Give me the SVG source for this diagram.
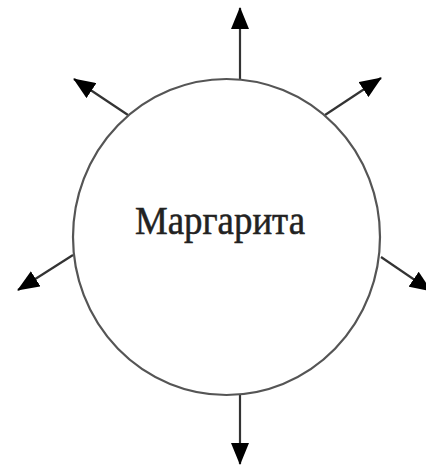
<svg xmlns="http://www.w3.org/2000/svg" width="426" height="466" viewBox="0 0 426 466">
<defs>
<marker id="ah" markerUnits="userSpaceOnUse" markerWidth="22" markerHeight="18" refX="21" refY="9" orient="auto" viewBox="0 0 22 18">
<path d="M0,0 L22,9 L0,18 Z" fill="#000"/>
</marker>
<style>
.c{stroke:#333;stroke-width:2.2;fill:none;marker-end:url(#ah)}
.n{fill:#fff;stroke:#555;stroke-width:2.2}
.t{font-family:"Liberation Serif","Times New Roman",serif;font-size:39px;fill:#222;stroke:#222;stroke-width:0.5}
</style>
</defs>
<rect width="426" height="466" fill="#fff"/>
<g id="connectors">
<line class="c" x1="240" y1="79" x2="240" y2="8"/>
<line class="c" x1="128" y1="115" x2="74" y2="79"/>
<line class="c" x1="325" y1="115" x2="381" y2="78"/>
<line class="c" x1="73" y1="255" x2="18" y2="290"/>
<line class="c" x1="381" y1="257" x2="431" y2="291"/>
<line class="c" x1="240" y1="395" x2="240" y2="464"/>
</g>
<g id="node-margarita">
<ellipse class="n" cx="226.5" cy="237" rx="153.5" ry="158"/>
<text class="t" x="135" y="234" textLength="170" lengthAdjust="spacingAndGlyphs">Маргарита</text>
</g>
</svg>
